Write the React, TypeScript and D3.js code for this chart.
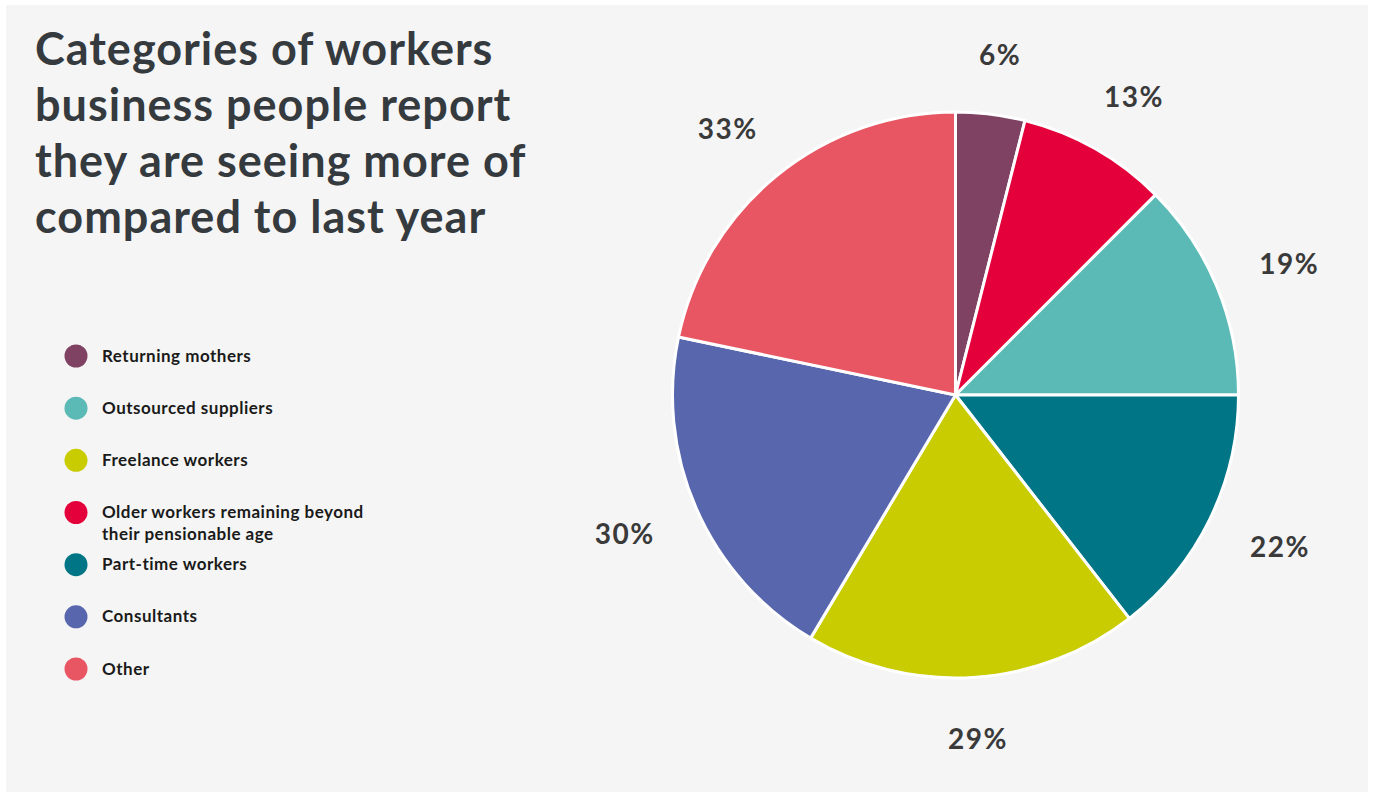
import React from "react";
import * as d3 from "d3";

const categories = [
  "Returning mothers",
  "Older workers remaining beyond their pensionable age",
  "Outsourced suppliers",
  "Part-time workers",
  "Freelance workers",
  "Consultants",
  "Other",
];
const values = [6, 13, 19, 22, 29, 30, 33];
const colors = ["#7f4262", "#e4003b", "#5bbab5", "#007585", "#c8cc00", "#5866ae", "#e85663"];

const legendOrder = [
  "Returning mothers",
  "Outsourced suppliers",
  "Freelance workers",
  "Older workers remaining beyond their pensionable age",
  "Part-time workers",
  "Consultants",
  "Other",
];
const legendLines: Record<string, string[]> = {
  "Older workers remaining beyond their pensionable age": [
    "Older workers remaining beyond",
    "their pensionable age",
  ],
};

const titleLines = [
  "Categories of workers",
  "business people report",
  "they are seeing more of",
  "compared to last year",
];

const W = 1373;
const H = 792;

export default function App() {
  const cx = 955.5;
  const cy = 395;
  const r = 283;
  const labelR = 344;

  const pie = d3.pie<number>().sort(null).value((d) => d);
  const arcs = pie(values);
  const arcGen = d3.arc<d3.PieArcDatum<number>>().innerRadius(0).outerRadius(r);
  const labelArc = d3
    .arc<d3.PieArcDatum<number>>()
    .innerRadius(labelR)
    .outerRadius(labelR);

  const colorScale = d3.scaleOrdinal<string, string>().domain(categories).range(colors);
  const legendY = d3.scalePoint<string>().domain(legendOrder).range([356, 669]);

  return (
    <svg
      width={W}
      height={H}
      style={{ position: "absolute", left: 0, top: 0, display: "block" }}
    >
      <rect x={6} y={5} width={1362} height={H} fill="#f5f5f5" />
      <g fontFamily="Lato, 'Open Sans', sans-serif" fontWeight={700} fill="#353a3e">
        {titleLines.map((t, i) => (
          <text key={t} x={35} y={65 + i * 56} fontSize={45} letterSpacing={1}>
            {t}
          </text>
        ))}
      </g>
      <g transform={`translate(${cx},${cy})`}>
        {arcs.map((a, i) => (
          <path
            key={categories[i]}
            d={arcGen(a) || ""}
            fill={colorScale(categories[i])}
            stroke="#ffffff"
            strokeWidth={3}
            strokeLinejoin="round"
          />
        ))}
        {arcs.map((a, i) => {
          const [x, y] = labelArc.centroid(a);
          return (
            <text
              key={"l" + i}
              x={x * 1.05}
              y={y}
              textAnchor="middle"
              dominantBaseline="central"
              fontFamily="Lato, 'Open Sans', sans-serif"
              fontWeight={700}
              fontSize={28}
              letterSpacing={1.5}
              fill="#3a3a3a"
            >
              {values[i]}%
            </text>
          );
        })}
      </g>
      <g
        fontFamily="Lato, 'Open Sans', sans-serif"
        fontWeight={700}
        fontSize={17}
        letterSpacing={0.5}
        fill="#1a1a1a"
      >
        {legendOrder.map((c) => {
          const y = legendY(c) as number;
          const lines = legendLines[c] || [c];
          return (
            <g key={c}>
              <circle cx={76} cy={y} r={11.5} fill={colorScale(c)} />
              {lines.map((ln, j) => (
                <text key={j} x={102} y={y + 5.5 + j * 22}>
                  {ln}
                </text>
              ))}
            </g>
          );
        })}
      </g>
    </svg>
  );
}
